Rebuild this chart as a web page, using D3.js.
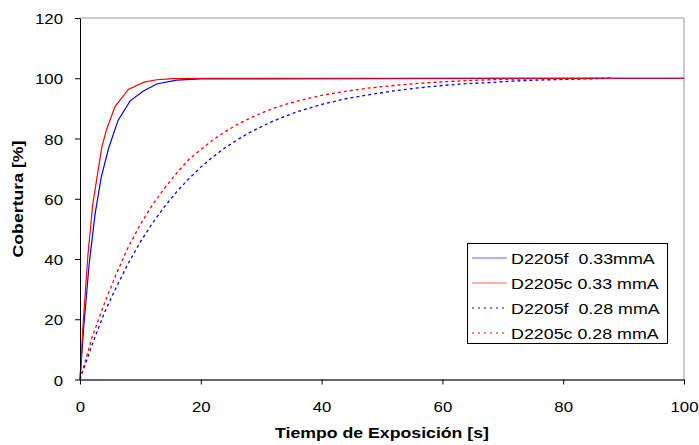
<!DOCTYPE html>
<html>
<head>
<meta charset="utf-8">
<script src="https://cdn.jsdelivr.net/npm/d3@7"></script>
<style>
  body { margin: 0; background: #fff; }
  svg { font-family: "Liberation Sans", Arial, sans-serif; }
</style>
</head>
<body>
<div id="chart"></div>
<script>
// solid series (0.33 mmA)
var fastX = [0, 0.6, 1.5, 2.5, 3.5, 4.7, 6.3, 8.3, 10.5, 12.7, 16, 20, 100];
var fastF = [0, 17, 38, 55, 67, 76.5, 86, 92.5, 95.8, 98.1, 99.4, 99.8, 100];
var fastCX = [0, 0.5, 1.3, 2.1, 3.6, 4.4, 5.8, 8, 10.6, 12.7, 15.4, 20, 100];
var fastC = [0, 18, 41, 58, 77, 83, 90.6, 96.3, 98.7, 99.5, 99.9, 100, 100];

// dotted series (0.28 mmA)
var slowX = [0, 2, 4, 6, 8, 10, 12, 14, 16, 18, 20, 22, 24, 26, 28, 30, 32, 34, 36, 38, 40,
             44, 48, 52, 56, 60, 64, 68, 72, 76, 80, 84, 88];
var slowF = [0, 11.5, 22, 30.6, 38.6, 45.7, 51.9, 57.4, 62.3, 66.6, 70.5, 73.9, 76.9, 79.5, 81.9,
             83.9, 85.8, 87.4, 88.9, 90.1, 91.3, 93.2, 94.6, 95.8, 96.8, 97.6, 98.2, 98.6, 99.1,
             99.4, 99.6, 99.8, 100];
var slowC = [0, 14, 25, 35, 44, 51.5, 58, 63.5, 68.5, 73, 76.3, 79.5, 82.2, 84.6, 86.6, 88.4,
             90, 91.3, 92.4, 93.4, 94.3, 95.7, 96.8, 97.6, 98.3, 98.8, 99.2, 99.5, 99.7, 99.8,
             99.9, 100, 100];

var xTicks = [0, 20, 40, 60, 80, 100];
var yTicks = [0, 20, 40, 60, 80, 100, 120];

var series = [
  { name: "D2205f  0.33mmA", xs: fastX, ys: fastF, color: "#0000ff", dash: null },
  { name: "D2205c 0.33 mmA", xs: fastCX, ys: fastC, color: "#ff0000", dash: null },
  { name: "D2205f  0.28 mmA", xs: slowX, ys: slowF, color: "#0000ff", dash: "3,3" },
  { name: "D2205c 0.28 mmA", xs: slowX, ys: slowC, color: "#ff0000", dash: "3,3" }
];

var W = 699, H = 445;
var svg = d3.select("#chart").append("svg")
  .attr("width", W)
  .attr("height", H);

var x = d3.scaleLinear().domain([0, 100]).range([80, 684]);
var y = d3.scaleLinear().domain([0, 120]).range([379.5, 18]);

// frame: top and right border
svg.append("path")
  .attr("d", "M" + x(0) + "," + y(120) + "H" + x(100) + "V" + y(0))
  .attr("fill", "none")
  .attr("stroke", "#999")
  .attr("stroke-width", 1);

// lines
var line = d3.line()
  .x(function (d) { return x(d[0]); })
  .y(function (d) { return y(d[1]); });

series.forEach(function (s) {
  var pts = s.xs.map(function (v, i) { return [v, s.ys[i]]; });
  svg.append("path")
    .datum(pts)
    .attr("d", line)
    .attr("fill", "none")
    .attr("stroke", s.color)
    .attr("stroke-width", s.dash ? 1.3 : 1.2)
    .attr("stroke-dasharray", s.dash);
});

// y axis
var yAxis = svg.append("g")
  .attr("transform", "translate(" + x(0) + ",0)")
  .call(d3.axisLeft(y).tickValues(yTicks).tickSize(5).tickSizeOuter(0));
yAxis.select(".domain").attr("stroke", "#000");
yAxis.selectAll("text")
  .attr("x", 0)
  .attr("dy", "0.37em")
  .attr("transform", "translate(-17,0) scale(1.12,1)")
  .style("font-size", "15px")
  .style("font-family", "Liberation Sans, Arial, sans-serif")
  .attr("fill", "#000");

// x axis
var xAxis = svg.append("g")
  .attr("transform", "translate(0," + y(0) + ")")
  .call(d3.axisBottom(x).tickValues(xTicks).tickSize(5).tickSizeOuter(0));
xAxis.select(".domain").attr("stroke", "#666").attr("stroke-width", 2);
xAxis.selectAll("text")
  .attr("y", 0)
  .attr("dy", 0)
  .attr("transform", "translate(0,32) scale(1.12,1)")
  .style("font-size", "15px")
  .style("font-family", "Liberation Sans, Arial, sans-serif")
  .attr("fill", "#000");

// axis titles
svg.append("text")
  .attr("transform", "translate(382,438) scale(1.18,1)")
  .attr("text-anchor", "middle")
  .style("font-size", "15px")
  .style("font-weight", "bold")
  .text("Tiempo de Exposición [s]");

svg.append("text")
  .attr("transform", "translate(23,199) rotate(-90) scale(1.18,1)")
  .attr("text-anchor", "middle")
  .style("font-size", "15px")
  .style("font-weight", "bold")
  .text("Cobertura [%]");

// legend
var legend = svg.append("g");
legend.append("rect")
  .attr("x", 467.5).attr("y", 243.5)
  .attr("width", 200).attr("height", 100)
  .attr("fill", "#fff")
  .attr("stroke", "#000");

series.forEach(function (s, i) {
  var cy = 258 + i * 25;
  legend.append("line")
    .attr("x1", 472).attr("x2", 507)
    .attr("y1", cy).attr("y2", cy)
    .attr("stroke", s.color)
    .attr("stroke-width", s.dash ? 1 : 1.2)
    .attr("stroke-opacity", s.dash ? 1 : 0.6)
    .attr("stroke-dasharray", s.dash ? "2,4" : null);
  legend.append("text")
    .attr("transform", "translate(511," + (cy + 5.5) + ") scale(1.19,1)")
    .attr("xml:space", "preserve")
    .style("white-space", "pre")
    .style("font-size", "15px")
    .text(s.name);
});
</script>
</body>
</html>
